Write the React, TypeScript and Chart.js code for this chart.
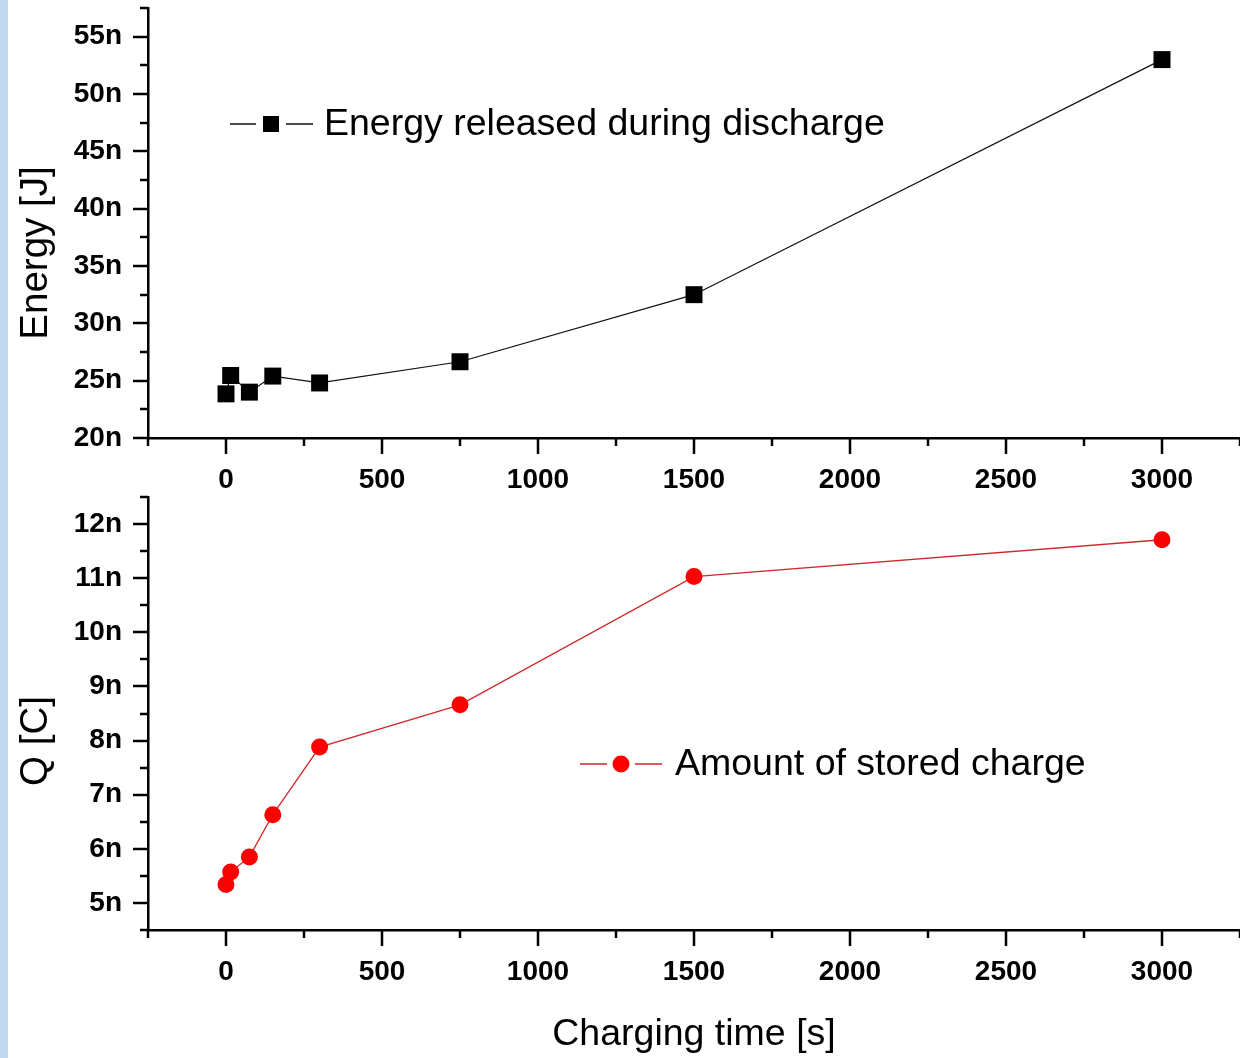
import React, { useEffect, useRef } from 'react';
import { Chart, registerables } from 'chart.js';

Chart.register(...registerables);

const FONT = '"Liberation Sans", Arial, Helvetica, sans-serif';

// ---- data (n-units: nJ and nC) ----
const chargingTime = [0, 15, 75, 150, 300, 750, 1500, 3000];
const energyReleased = [23.85, 25.45, 24.0, 25.4, 24.8, 26.65, 32.5, 53.0];
const storedCharge = [5.34, 5.57, 5.85, 6.63, 7.88, 8.66, 11.03, 11.71];

// ---- tick labels ----
const timeMajorTicks = [0, 500, 1000, 1500, 2000, 2500, 3000];
const energyMajorTicks = [20, 25, 30, 35, 40, 45, 50, 55];
const chargeMajorTicks = [5, 6, 7, 8, 9, 10, 11, 12];

const energyLabel = 'Energy released during discharge';
const chargeLabel = 'Amount of stored charge';
const timeTitle = 'Charging time [s]';
const energyTitle = 'Energy [J]';
const chargeTitle = 'Q [C]';

const isMajor = (v: number, list: number[]) => list.some((m) => Math.abs(m - v) < 1e-6);

const tickFont = { family: FONT, size: 28, weight: 'bold' as const };

function zeroPad(scale: any) {
  scale.paddingTop = 0;
  scale.paddingBottom = 0;
  scale.paddingLeft = 0;
  scale.paddingRight = 0;
}

function tickMarksPlugin(yMajor: number[]) {
  return {
    id: 'tickMarks',
    afterDraw(chart: any) {
      const ctx = chart.ctx;
      const xs = chart.scales.x;
      const ys = chart.scales.y;
      const { left, bottom } = chart.chartArea;
      ctx.save();
      ctx.strokeStyle = '#000';
      ctx.lineWidth = 2.5;
      xs.ticks.forEach((t: any, i: number) => {
        const px = Math.round(xs.getPixelForTick(i));
        const len = isMajor(t.value, timeMajorTicks) ? 16 : 8;
        ctx.beginPath();
        ctx.moveTo(px, bottom);
        ctx.lineTo(px, bottom + len);
        ctx.stroke();
      });
      ys.ticks.forEach((t: any, i: number) => {
        const py = Math.round(ys.getPixelForTick(i));
        const len = isMajor(t.value, yMajor) ? 15 : 8;
        ctx.beginPath();
        ctx.moveTo(left, py);
        ctx.lineTo(left - len, py);
        ctx.stroke();
      });
      ctx.restore();
    },
  };
}

function annotationsPlugin(opts: {
  title: string;
  titleX: number;
  titleY: number;
  legendText: string;
  legendY: number;
  lineX1: number;
  lineX2: number;
  markerX: number;
  gap: number;
  textX: number;
  marker: 'rect' | 'circle';
  lineColor: string;
  markerColor: string;
}) {
  return {
    id: 'annotations',
    afterDraw(chart: any) {
      const ctx = chart.ctx;
      ctx.save();
      // y-axis title
      ctx.translate(opts.titleX, opts.titleY);
      ctx.rotate(-Math.PI / 2);
      ctx.fillStyle = '#000';
      ctx.font = `38.5px ${FONT}`;
      ctx.textAlign = 'center';
      ctx.textBaseline = 'middle';
      ctx.fillText(opts.title, 0, 0);
      ctx.restore();

      // legend
      ctx.save();
      ctx.strokeStyle = opts.lineColor;
      ctx.lineWidth = 1.3;
      ctx.beginPath();
      ctx.moveTo(opts.lineX1, opts.legendY);
      ctx.lineTo(opts.markerX - opts.gap, opts.legendY);
      ctx.moveTo(opts.markerX + opts.gap, opts.legendY);
      ctx.lineTo(opts.lineX2, opts.legendY);
      ctx.stroke();
      ctx.fillStyle = opts.markerColor;
      if (opts.marker === 'rect') {
        ctx.fillRect(opts.markerX - 8, opts.legendY - 8, 16, 16);
      } else {
        ctx.beginPath();
        ctx.arc(opts.markerX, opts.legendY, 8.5, 0, Math.PI * 2);
        ctx.fill();
      }
      ctx.fillStyle = '#000';
      ctx.font = `37.5px ${FONT}`;
      ctx.textAlign = 'left';
      ctx.textBaseline = 'middle';
      ctx.fillText(opts.legendText, opts.textX, opts.legendY + 1);
      ctx.restore();
    },
  };
}

function xScale(withTitle: boolean, height: number) {
  return {
    type: 'linear' as const,
    min: -250,
    max: 3250,
    ticks: {
      stepSize: 250,
      autoSkip: false,
      maxRotation: 0,
      padding: 25,
      color: '#000',
      font: tickFont,
      callback: (v: any) => (isMajor(Number(v), timeMajorTicks) ? String(v) : ''),
    },
    grid: { display: false, drawTicks: false },
    border: { display: true, color: '#000', width: 2.5 },
    title: withTitle
      ? {
          display: true,
          text: timeTitle,
          color: '#000',
          font: { family: FONT, size: 37.5, lineHeight: 1.2 },
          padding: { top: 0, bottom: 1 },
        }
      : { display: false },
    afterFit: (s: any) => {
      s.height = height;
      zeroPad(s);
    },
  };
}

function yScale(min: number, max: number, step: number, major: number[]) {
  return {
    type: 'linear' as const,
    min,
    max,
    ticks: {
      stepSize: step,
      autoSkip: false,
      padding: 26,
      color: '#000',
      font: tickFont,
      callback: (v: any) => {
        const n = Number(v);
        return isMajor(n, major) ? `${Math.round(n)}n` : '';
      },
    },
    grid: { display: false, drawTicks: false },
    border: { display: true, color: '#000', width: 2.5 },
    afterFit: (s: any) => {
      s.width = 148;
      zeroPad(s);
    },
  };
}

export default function App() {
  const topRef = useRef<HTMLCanvasElement>(null);
  const botRef = useRef<HTMLCanvasElement>(null);

  useEffect(() => {
    const top = new Chart(topRef.current as HTMLCanvasElement, {
      type: 'line',
      data: {
        datasets: [
          {
            label: energyLabel,
            data: chargingTime.map((x, i) => ({ x, y: energyReleased[i] })),
            borderColor: '#111',
            borderWidth: 1.2,
            pointStyle: 'rect',
            pointRadius: 12,
            pointBackgroundColor: '#000',
            pointBorderColor: '#000',
            pointBorderWidth: 0,
            tension: 0,
          },
        ],
      },
      options: {
        animation: false,
        responsive: false,
        maintainAspectRatio: false,
        layout: { autoPadding: false, padding: { top: 8, left: 0, right: 0, bottom: 0 } },
        plugins: { legend: { display: false }, tooltip: { enabled: false } },
        scales: {
          x: xScale(false, 62) as any,
          y: yScale(20, 57.5, 2.5, energyMajorTicks) as any,
        },
      },
      plugins: [
        tickMarksPlugin(energyMajorTicks),
        annotationsPlugin({
          title: energyTitle,
          titleX: 36,
          titleY: 253,
          legendText: energyLabel,
          legendY: 124,
          lineX1: 230,
          lineX2: 313,
          markerX: 271,
          gap: 15,
          textX: 324,
          marker: 'rect',
          lineColor: '#111',
          markerColor: '#000',
        }),
      ],
    });

    const bottom = new Chart(botRef.current as HTMLCanvasElement, {
      type: 'line',
      data: {
        datasets: [
          {
            label: chargeLabel,
            data: chargingTime.map((x, i) => ({ x, y: storedCharge[i] })),
            borderColor: '#cc2a2a',
            borderWidth: 1.3,
            pointStyle: 'circle',
            pointRadius: 8.5,
            pointBackgroundColor: '#ff0000',
            pointBorderColor: '#ff0000',
            pointBorderWidth: 0,
            tension: 0,
          },
        ],
      },
      options: {
        animation: false,
        responsive: false,
        maintainAspectRatio: false,
        layout: { autoPadding: false, padding: { top: 7, left: 0, right: 0, bottom: 0 } },
        plugins: { legend: { display: false }, tooltip: { enabled: false } },
        scales: {
          x: xScale(true, 128) as any,
          y: yScale(4.5, 12.5, 0.5, chargeMajorTicks) as any,
        },
      },
      plugins: [
        tickMarksPlugin(chargeMajorTicks),
        annotationsPlugin({
          title: chargeTitle,
          titleX: 36,
          titleY: 251,
          legendText: chargeLabel,
          legendY: 274,
          lineX1: 580,
          lineX2: 662,
          markerX: 621,
          gap: 14,
          textX: 675,
          marker: 'circle',
          lineColor: '#cc2a2a',
          markerColor: '#ff0000',
        }),
      ],
    });

    return () => {
      top.destroy();
      bottom.destroy();
    };
  }, []);

  return (
    <div
      style={{
        position: 'fixed',
        left: 0,
        top: 0,
        width: 1240,
        height: 1058,
        background: '#fff',
        overflow: 'hidden',
      }}
    >
      <div
        style={{ position: 'absolute', left: 0, top: 0, width: 8, height: 1058, background: '#c3d9f0' }}
      />
      <canvas
        ref={topRef}
        width={1240}
        height={500}
        style={{ position: 'absolute', left: 0, top: 0, width: 1240, height: 500 }}
      />
      <canvas
        ref={botRef}
        width={1240}
        height={568}
        style={{ position: 'absolute', left: 0, top: 490, width: 1240, height: 568 }}
      />
    </div>
  );
}
